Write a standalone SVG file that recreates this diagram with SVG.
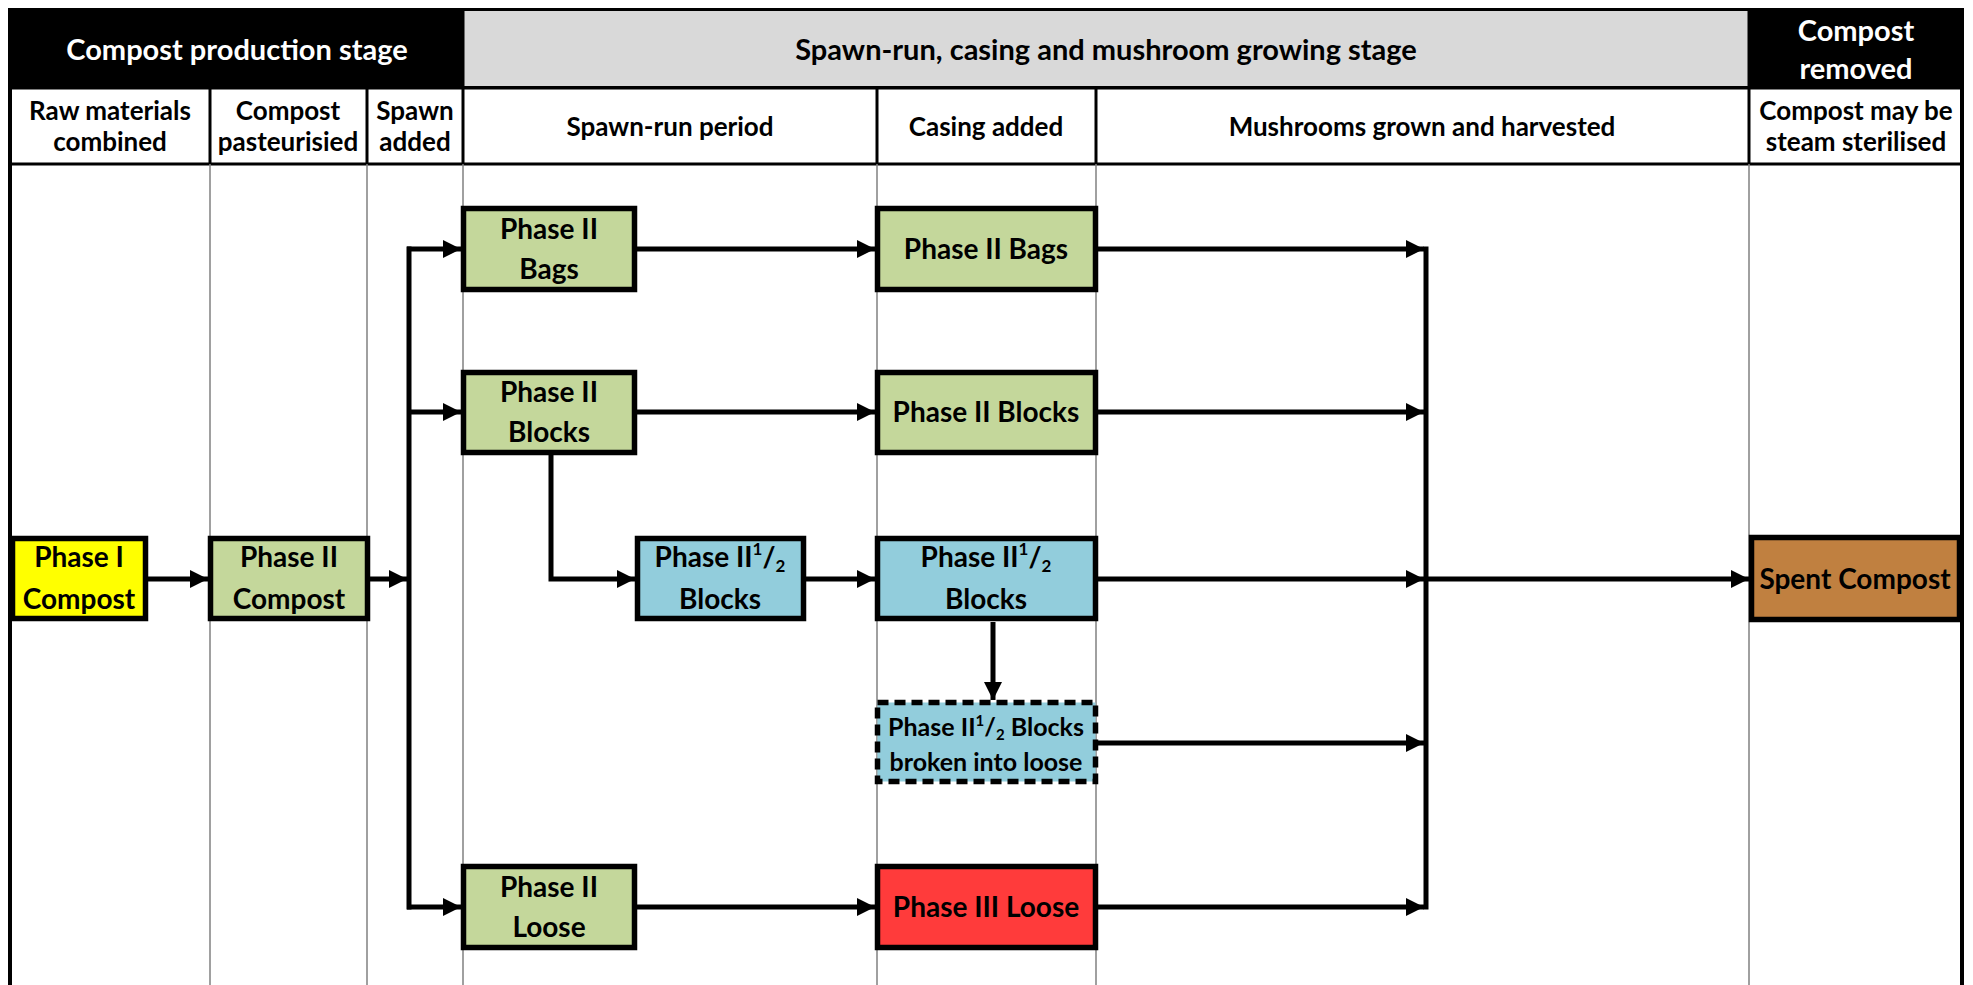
<svg xmlns="http://www.w3.org/2000/svg" width="1973" height="985" viewBox="0 0 1973 985">
<style>
text{font-family:Lato,"Liberation Sans",sans-serif;font-weight:bold;text-anchor:middle;fill:#000}
.hw{fill:#fff;font-size:29px}
.hb{font-size:29px}
.h2{font-size:26px}
.n{font-size:28px}
.s{font-size:25px}
.box{stroke:#000;stroke-width:5.5}
.grid{stroke:#808080;stroke-width:1.5;fill:none}
.hdr{stroke:#000;stroke-width:3;fill:none}
.con{stroke:#000;stroke-width:5;fill:none}
.arr{marker-end:url(#ah)}
</style>
<defs>
<marker id="ah" markerUnits="userSpaceOnUse" markerWidth="18" markerHeight="18" refX="18" refY="9" orient="auto">
<path d="M0,0 L18,9 L0,18 z" fill="#000"/>
</marker>
</defs>
<rect x="0" y="0" width="1973" height="985" fill="#fff"/>
<g id="table">
<rect x="8" y="8" width="457" height="80" fill="#000"/>
<rect x="463" y="9.5" width="1286" height="78" fill="#d9d9d9" stroke="#000" stroke-width="3"/>
<rect x="1749" y="8" width="215" height="80" fill="#000"/>
<line class="hdr" x1="8" y1="88" x2="1964" y2="88"/>
<line class="hdr" x1="8" y1="164" x2="1964" y2="164" stroke-width="4"/>
<line class="hdr" x1="210" y1="88" x2="210" y2="164"/>
<line class="hdr" x1="367" y1="88" x2="367" y2="164"/>
<line class="hdr" x1="463" y1="88" x2="463" y2="164"/>
<line class="hdr" x1="877" y1="88" x2="877" y2="164"/>
<line class="hdr" x1="1096" y1="88" x2="1096" y2="164"/>
<line class="hdr" x1="1749" y1="88" x2="1749" y2="164"/>
<line class="grid" x1="210" y1="164" x2="210" y2="985"/>
<line class="grid" x1="367" y1="164" x2="367" y2="985"/>
<line class="grid" x1="463" y1="164" x2="463" y2="985"/>
<line class="grid" x1="877" y1="164" x2="877" y2="985"/>
<line class="grid" x1="1096" y1="164" x2="1096" y2="985"/>
<line class="grid" x1="1749" y1="164" x2="1749" y2="985"/>
<line x1="10" y1="8" x2="10" y2="985" stroke="#000" stroke-width="4"/>
<line x1="1962" y1="8" x2="1962" y2="985" stroke="#000" stroke-width="4"/>
<text class="hw" x="237" y="60">Compost production stage</text>
<text class="hb" x="1106" y="60">Spawn-run, casing and mushroom growing stage</text>
<text class="hw" x="1856" y="41">Compost</text>
<text class="hw" x="1856" y="79">removed</text>
<text class="h2" x="110" y="120">Raw materials</text>
<text class="h2" x="110" y="151">combined</text>
<text class="h2" x="288" y="120">Compost</text>
<text class="h2" x="288" y="151">pasteurisied</text>
<text class="h2" x="415" y="120">Spawn</text>
<text class="h2" x="415" y="151">added</text>
<text class="h2" x="670" y="136">Spawn-run period</text>
<text class="h2" x="986" y="136">Casing added</text>
<text class="h2" x="1422" y="136">Mushrooms grown and harvested</text>
<text class="h2" x="1856" y="120">Compost may be</text>
<text class="h2" x="1856" y="151">steam sterilised</text>
</g>
<g id="connectors">
<path class="con arr" d="M148,579 H208"/>
<path class="con arr" d="M370,579 H407"/>
<path class="con" d="M409,246.5 V909.5"/>
<path class="con arr" d="M407,249 H461"/>
<path class="con arr" d="M407,412 H461"/>
<path class="con arr" d="M407,907 H461"/>
<path class="con arr" d="M637,249 H875"/>
<path class="con arr" d="M637,412 H875"/>
<path class="con arr" d="M551,455 V579 H635"/>
<path class="con arr" d="M806,579 H875"/>
<path class="con arr" d="M993,622 V700"/>
<path class="con arr" d="M637,907 H875"/>
<path class="con arr" d="M1098,249 H1424"/>
<path class="con arr" d="M1098,412 H1424"/>
<path class="con arr" d="M1098,579 H1424"/>
<path class="con arr" d="M1098,743 H1424"/>
<path class="con arr" d="M1098,907 H1424"/>
<path class="con" d="M1426,246.5 V909.5"/>
<path class="con arr" d="M1426,579 H1749"/>
</g>
<g id="phase1-compost">
<rect class="box" x="12.5" y="538.5" width="133" height="80" fill="#ffff00"/>
<text class="n" x="79" y="567">Phase I</text>
<text class="n" x="79" y="609">Compost</text>
</g>
<g id="phase2-compost">
<rect class="box" x="210.5" y="538.5" width="157" height="80" fill="#c4d79b"/>
<text class="n" x="289" y="567">Phase II</text>
<text class="n" x="289" y="609">Compost</text>
</g>
<g id="phase2-bags-spawn">
<rect class="box" x="463.5" y="208.5" width="171" height="81" fill="#c4d79b"/>
<text class="n" x="549" y="239">Phase II</text>
<text class="n" x="549" y="279">Bags</text>
</g>
<g id="phase2-blocks-spawn">
<rect class="box" x="463.5" y="372.5" width="171" height="80" fill="#c4d79b"/>
<text class="n" x="549" y="402">Phase II</text>
<text class="n" x="549" y="442">Blocks</text>
</g>
<g id="phase2-loose-spawn">
<rect class="box" x="463.5" y="866.5" width="171" height="81" fill="#c4d79b"/>
<text class="n" x="549" y="897">Phase II</text>
<text class="n" x="549" y="937">Loose</text>
</g>
<g id="phase2-half-blocks-spawn">
<rect class="box" x="637.5" y="538.5" width="166" height="80" fill="#92cddc"/>
<text class="n" x="720" y="567">Phase II<tspan font-size="17" dy="-12">1</tspan><tspan dy="12">/</tspan><tspan font-size="17" dy="5">2</tspan></text>
<text class="n" x="720" y="609">Blocks</text>
</g>
<g id="phase2-bags-casing">
<rect class="box" x="877.5" y="208.5" width="218" height="81" fill="#c4d79b"/>
<text class="n" x="986" y="259">Phase II Bags</text>
</g>
<g id="phase2-blocks-casing">
<rect class="box" x="877.5" y="372.5" width="218" height="80" fill="#c4d79b"/>
<text class="n" x="986" y="422">Phase II Blocks</text>
</g>
<g id="phase2-half-blocks-casing">
<rect class="box" x="877.5" y="538.5" width="218" height="80" fill="#92cddc"/>
<text class="n" x="986" y="567">Phase II<tspan font-size="17" dy="-12">1</tspan><tspan dy="12">/</tspan><tspan font-size="17" dy="5">2</tspan></text>
<text class="n" x="986" y="609">Blocks</text>
</g>
<g id="phase2-half-broken">
<rect class="box" x="877.5" y="702.5" width="218" height="79" fill="#92cddc" stroke-dasharray="11 6"/>
<text class="s" x="986" y="736">Phase II<tspan font-size="15" dy="-10">1</tspan><tspan dy="10">/</tspan><tspan font-size="15" dy="4">2</tspan><tspan dy="-4"> Blocks</tspan></text>
<text class="s" x="986" y="771">broken into loose</text>
</g>
<g id="phase3-loose">
<rect class="box" x="877.5" y="866.5" width="218" height="81" fill="#ff3b3b"/>
<text class="n" x="986" y="917">Phase III Loose</text>
</g>
<g id="spent-compost">
<rect class="box" x="1751.5" y="537.5" width="208" height="82" fill="#c08040"/>
<text class="n" x="1855" y="589">Spent Compost</text>
</g>
</svg>
